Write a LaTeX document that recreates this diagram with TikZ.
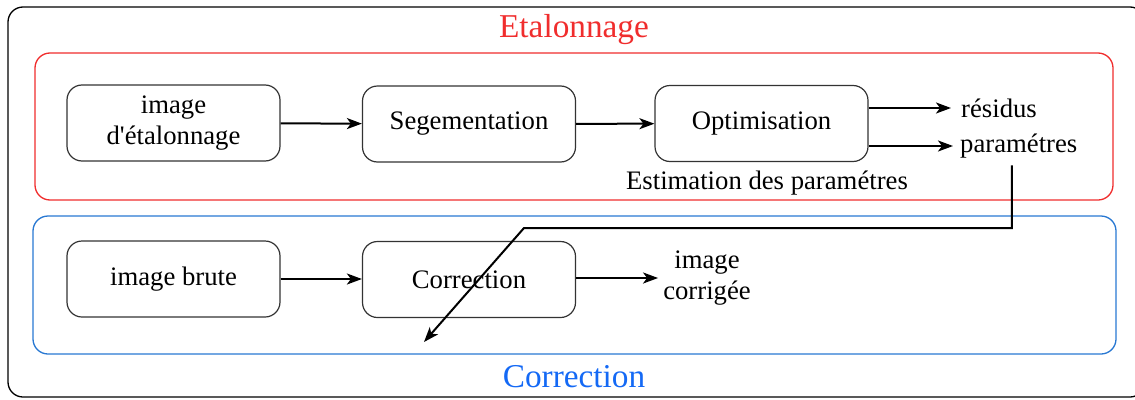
\documentclass[tikz,border=0pt]{standalone}
\usepackage{fontspec}
\setmainfont{Liberation Serif}
\usetikzlibrary{arrows.meta}
\definecolor{tred}{RGB}{240,45,45}
\definecolor{tblue}{RGB}{40,120,210}
\definecolor{tblueT}{RGB}{20,105,245}
\tikzset{
  procbox/.style={draw=black!80, line width=1.2pt, rounded corners=15pt,
    minimum width=213pt, minimum height=76pt, inner sep=0pt, align=center,
    font=\fontsize{26.7}{31}\selectfont},
  lbl/.style={inner sep=0pt, align=center, font=\fontsize{26.7}{31}\selectfont},
  ttl/.style={inner sep=0pt, font=\fontsize{33.3}{38}\selectfont},
  arr/.style={line width=2pt, -{Stealth[length=15pt,width=11pt,inset=4pt]}},
  frame/.style={line width=1.3pt, rounded corners=15pt}
}
\begin{document}
\begin{tikzpicture}[x=1pt,y=-1pt]
\useasboundingbox (0,0) rectangle (1135,399);
% frames
\draw[frame, black] (8,7) rectangle (1145,397);
\draw[frame, tred] (35,53) rectangle (1113,200);
\draw[frame, tblue] (33,216) rectangle (1116,354);
\node[ttl, text=tred] (t1) at (574,30) {Etalonnage};
\node[ttl, text=tblueT] (t2) at (574,377) {Correction};
% top row
\node[procbox] (img) at (173.5,123) {image\\d\textquotesingle étalonnage};
\node[procbox] (seg) at (469,124) {Segementation};
\node[procbox] (opt) at (761.5,123.5) {Optimisation};
\node[lbl, anchor=west] (res) at (961,108) {résidus};
\node[lbl, anchor=west] (par) at (960,146) {paramétres};
\node[lbl] (est) at (767,183) {Estimation des paramétres};
\draw[arr] (img) -- (seg);
\draw[arr] (seg) -- (opt);
\draw[arr] (opt.east |- res.west) -- ([xshift=-10pt]res.west);
\draw[arr] (opt.east |- par.west) -- ([xshift=-7pt]par.west);
% bottom row
\node[procbox] (brute) at (173.5,279) {image brute};
\node[procbox] (corr) at (469,279.5) {Correction};
\node[lbl] (cg) at (707,278) {image\\corrigée};
\draw[arr] (brute) -- (corr.west |- brute.east);
\draw[arr] (corr.east |- cg.west) -- ([xshift=-5pt]cg.west);
% feedback connector
\coordinate (bend) at (524,228);
\coordinate (tip) at (424,342);
\draw[arr] ([xshift=-7pt,yshift=-7pt]par.south) |- (bend) -- (tip);
\end{tikzpicture}
\end{document}
